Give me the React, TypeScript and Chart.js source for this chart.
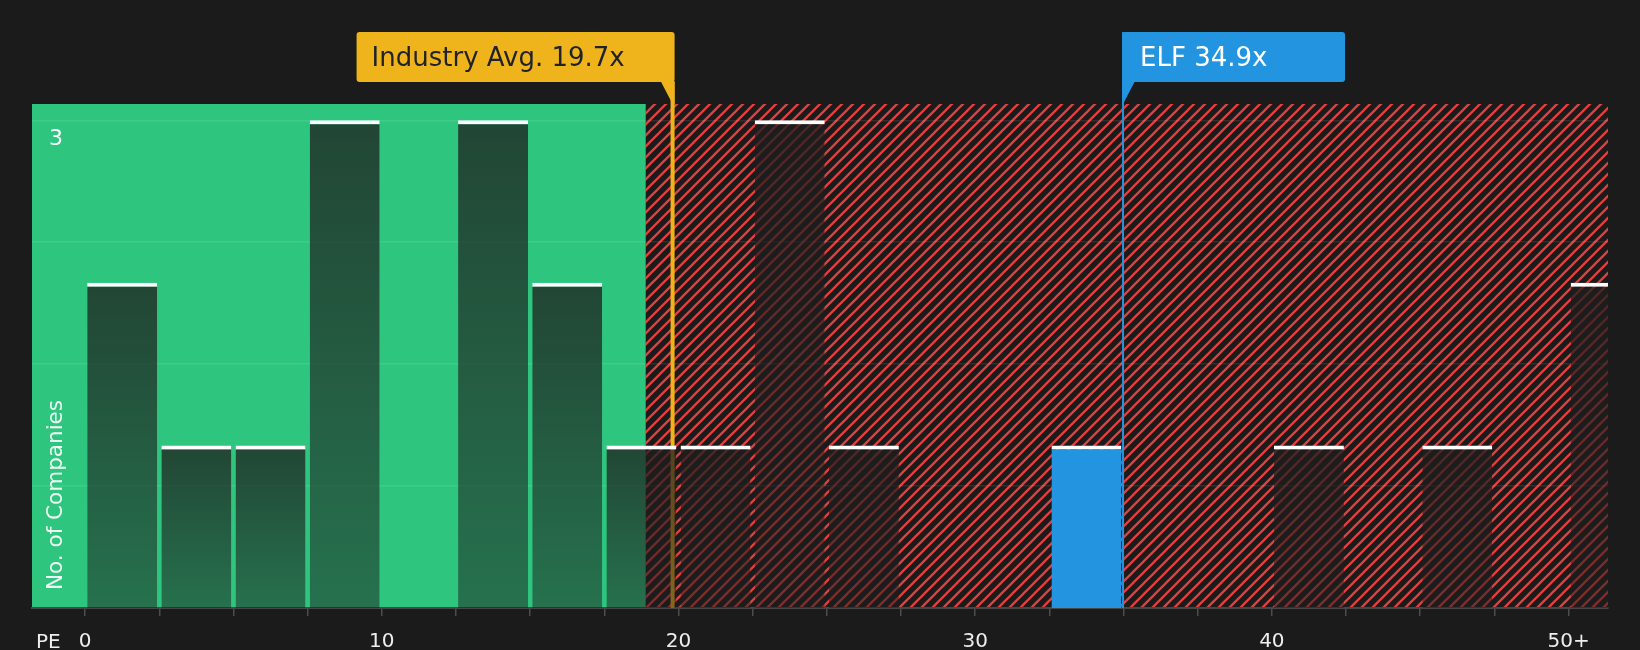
import React, { useEffect, useRef } from "react";
import { Chart, registerables } from "chart.js";

Chart.register(...registerables);

// PE histogram: bin starts (width 2.5) and number of companies in each bin
const binStarts = [0, 2.5, 5, 7.5, 10, 12.5, 15, 17.5, 20, 22.5, 25, 27.5, 30, 32.5, 35, 37.5, 40, 42.5, 45, 47.5, 50];
const companyCounts = [2, 1, 1, 3, 0, 3, 2, 1, 1, 3, 1, 0, 0, 1, 0, 0, 1, 0, 1, 0, 2];
const binWidth = 2.5;

const xLabelValues = [0, 10, 20, 30, 40, 50];
const xLabels = ["0", "10", "20", "30", "40", "50+"];
const yGridValues = [0.75, 1.5, 2.25, 3];
const yLabelValue = 3;

const industryAvg = 19.7;
const companyPE = 34.9;
const companyName = "ELF";
const greenZoneEnd = 18.9;

const xMin = -1.79;
const xMax = 51.33;
const yMax = 3.1;

const FONT = "DejaVu Sans";
const BG = "#1b1b1b";
const GREEN = "#2ec67f";
const RED = "#e2403e";
const YELLOW = "#efb31c";
const BLUE = "#2394df";
const LINE_SHIFT = 3;

const elfBin = binStarts.findIndex((s) => companyPE >= s && companyPE < s + binWidth);

function makeHatch(ctx: CanvasRenderingContext2D) {
  const s = 11;
  const c = document.createElement("canvas");
  c.width = s;
  c.height = s;
  const p = c.getContext("2d")!;
  p.fillStyle = BG;
  p.fillRect(0, 0, s, s);
  p.strokeStyle = RED;
  p.lineWidth = 2.3;
  p.beginPath();
  p.moveTo(-2, s + 2);
  p.lineTo(s + 2, -2);
  p.moveTo(-2, 2);
  p.lineTo(2, -2);
  p.moveTo(s - 2, s + 2);
  p.lineTo(s + 2, s - 2);
  p.stroke();
  return ctx.createPattern(c, "repeat");
}

const zonesPlugin = {
  id: "zones",
  beforeDraw(chart: any) {
    const { ctx, chartArea, scales } = chart;
    if (!chartArea) return;
    const { top, bottom, left, right } = chartArea;
    const split = scales.x.getPixelForValue(greenZoneEnd);
    ctx.save();
    ctx.fillStyle = GREEN;
    ctx.fillRect(left, top, split - left, bottom - top);
    ctx.fillStyle = makeHatch(ctx) || RED;
    ctx.fillRect(split, top, right - split, bottom - top);
    ctx.restore();
  },
  beforeDatasetsDraw(chart: any) {
    const { ctx, chartArea, scales } = chart;
    const lx = scales.x.getPixelForValue(industryAvg) + LINE_SHIFT;
    ctx.save();
    ctx.fillStyle = YELLOW;
    ctx.fillRect(lx - 2, 82, 4, chartArea.bottom - 82);
    ctx.restore();
  },
  afterDraw(chart: any) {
    const { ctx, chartArea, scales } = chart;
    const { bottom, left } = chartArea;
    ctx.save();

    // industry average callout
    const lx = scales.x.getPixelForValue(industryAvg) + LINE_SHIFT;
    const iw = 318;
    ctx.fillStyle = YELLOW;
    ctx.beginPath();
    ctx.roundRect(lx + 2 - iw, 32, iw, 50, 3);
    ctx.fill();
    ctx.beginPath();
    ctx.moveTo(lx - 12, 81);
    ctx.lineTo(lx + 2, 81);
    ctx.lineTo(lx + 2, 104);
    ctx.lineTo(lx, 104);
    ctx.closePath();
    ctx.fill();
    ctx.fillStyle = "#1f2329";
    ctx.font = `26px "${FONT}"`;
    ctx.textBaseline = "alphabetic";
    ctx.textAlign = "left";
    ctx.fillText(`Industry Avg. ${industryAvg}x`, lx + 2 - iw + 15, 66);

    // company callout
    const ex = scales.x.getPixelForValue(companyPE) + LINE_SHIFT - 0.5;
    const ew = 223;
    ctx.fillStyle = BLUE;
    ctx.fillRect(ex - 1, 32, 2, bottom - 32);
    ctx.beginPath();
    ctx.roundRect(ex - 1, 32, ew, 50, 3);
    ctx.fill();
    ctx.beginPath();
    ctx.moveTo(ex - 1, 81);
    ctx.lineTo(ex + 12, 81);
    ctx.lineTo(ex, 104);
    ctx.lineTo(ex - 1, 104);
    ctx.closePath();
    ctx.fill();
    ctx.fillStyle = "#ffffff";
    ctx.fillText(`${companyName} ${companyPE}x`, ex + 17, 66);

    // axis titles
    ctx.font = `21.5px "${FONT}"`;
    ctx.fillStyle = "rgba(255,255,255,0.92)";
    ctx.translate(left + 30, bottom - 18);
    ctx.rotate(-Math.PI / 2);
    ctx.fillText("No. of Companies", 0, 0);
    ctx.setTransform(1, 0, 0, 1, 0, 0);
    ctx.font = `20px "${FONT}"`;
    ctx.fillStyle = "#eeeeee";
    ctx.fillText("PE", 36, bottom + 40);
    ctx.restore();
  },
};

const App: React.FC = () => {
  const chartRef = useRef<HTMLCanvasElement | null>(null);

  useEffect(() => {
    document.body.style.margin = "0";
    document.body.style.background = BG;
    if (!chartRef.current) return;
    const ctx = chartRef.current.getContext("2d");
    if (!ctx) return;

    const chart = new Chart(ctx, {
      type: "bar",
      data: {
        datasets: [
          {
            label: "No. of Companies",
            data: companyCounts.map((v, i) => ({ x: binStarts[i] + binWidth / 2, y: v })),
            backgroundColor: (c: any) => {
              if (c.type !== "data") return "rgba(30,30,30,0.6)";
              if (c.dataIndex === elfBin) return BLUE;
              const { chart: ch } = c;
              const y = ch.scales?.y;
              if (!ch.chartArea || !y) return "rgba(30,30,30,0.6)";
              const top = y.getPixelForValue(companyCounts[c.dataIndex]);
              const base = y.getPixelForValue(0);
              if (!(base > top)) return "rgba(30,30,30,0.6)";
              const g = ch.ctx.createLinearGradient(0, top, 0, base);
              g.addColorStop(0, "rgba(30,29,29,0.76)");
              g.addColorStop(1, "rgba(30,29,29,0.5)");
              return g;
            },
            borderColor: "#ffffff",
            borderWidth: { top: 4, right: 0, bottom: 0, left: 0 },
            borderSkipped: false,
            barPercentage: 0.943,
            categoryPercentage: 1,
          },
        ],
      },
      options: {
        responsive: false,
        animation: false,
        events: [],
        layout: { padding: { left: 32, top: 104, right: 32, bottom: 0 } },
        plugins: {
          legend: { display: false },
          tooltip: { enabled: false },
        },
        scales: {
          x: {
            type: "linear",
            min: xMin,
            max: xMax,
            offset: false,
            afterFit: (s: any) => {
              s.height = 42;
            },
            afterBuildTicks: (s: any) => {
              s.ticks = binStarts.map((v) => ({ value: v }));
            },
            border: { display: true, color: "#474747", width: 2 },
            grid: {
              offset: false,
              drawOnChartArea: false,
              drawTicks: true,
              tickLength: 8,
              color: "#4d4d4d",
              lineWidth: 1.5,
            },
            ticks: {
              autoSkip: false,
              maxRotation: 0,
              padding: 14,
              color: "#eeeeee",
              font: { family: FONT, size: 20 },
              callback: (v: any) => {
                const k = xLabelValues.indexOf(Number(v));
                return k >= 0 ? xLabels[k] : "";
              },
            },
          },
          y: {
            min: 0,
            max: yMax,
            afterFit: (s: any) => {
              s.width = 0;
            },
            afterBuildTicks: (s: any) => {
              s.ticks = yGridValues.map((v) => ({ value: v }));
            },
            border: { display: false },
            grid: { color: "rgba(255,255,255,0.09)", lineWidth: 1.5, drawTicks: false },
            ticks: {
              mirror: true,
              padding: 17,
              labelOffset: 19,
              color: "#ffffff",
              font: { family: FONT, size: 22 },
              callback: (v: any) => (Number(v) === yLabelValue ? String(yLabelValue) : ""),
            },
          },
        },
      },
      plugins: [zonesPlugin],
    });

    return () => {
      chart.destroy();
    };
  }, []);

  return (
    <div style={{ width: 1640, height: 650, background: BG }}>
      <canvas ref={chartRef} width={1640} height={650} style={{ display: "block" }} />
    </div>
  );
};

export default App;
